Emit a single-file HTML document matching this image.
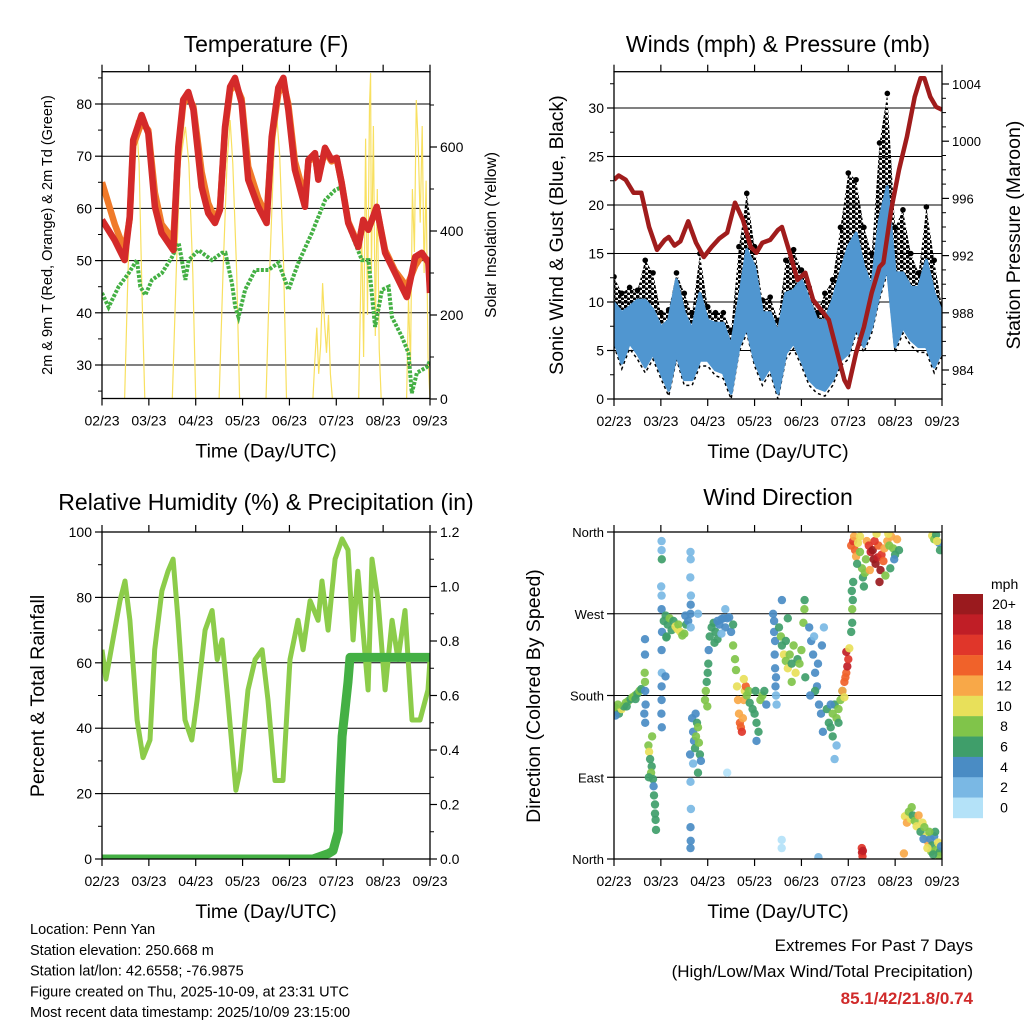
<!DOCTYPE html>
<html><head><meta charset="utf-8"><style>
html,body{margin:0;padding:0;background:#fff;}
svg{display:block;font-family:"Liberation Sans",sans-serif;}
</style></head><body>
<svg id="c" width="1024" height="1024" viewBox="0 0 1024 1024" xmlns="http://www.w3.org/2000/svg"></svg>
<script>
// ---------- DATA ----------
const dayLabels = ['02/23','03/23','04/23','05/23','06/23','07/23','08/23','09/23'];
// Temperature (hours since start, degF)
const tempT = [0,6.5,11.6,14.2,16,20.3,23.7,27.1,30.5,36.5,39.1,41.6,44.2,46.8,51,54.4,57.9,60.4,63,65.6,68.1,71.5,74.9,80,84.3,86.9,90.3,92.9,95.4,98.8,104,105.7,109.1,110.8,114.2,117.6,120.2,122.7,126.1,131.3,133.8,136.4,140.7,145,150.1,156.1,160.4,163.8,167.2,168];
const temp2m = [57.8,53.9,50.1,58.4,73.1,77.9,74.4,60.3,55.3,52,71.8,80.8,82.3,78.9,64.1,59.1,57.2,59.7,75.6,83.3,85,80.2,65.5,60.3,57.2,73.7,83.1,85,78.9,67.4,60.3,69.3,70.6,65.5,71.6,69.3,69.7,64.9,57.2,52.6,57.8,55.9,60.3,51.5,47.6,43,50.7,51.5,49.6,43.8];
const temp9m = [65,57,52,58,72,76.5,75,63,57,54,71,80,81.5,79.5,67,61,58,60,75,82.5,84,81,68,62,58.5,73,82,84,80,69,62,69,70,66,71,69,69.5,65,57.5,53,57.5,56,60,52,48,45,49,51,50,45];
const tdT = [0,3.4,8.5,13.7,17.9,19.6,22.2,25.6,30.7,35.9,39.3,42.7,44.4,49.5,56.3,61.5,63.2,66.6,68.3,69.9,73.3,78.5,85.3,90.4,95.5,100.6,107.5,114.3,119.4,122.9,126.3,133.1,136.5,139.9,143.4,146.8,148.5,153.6,157,158.7,161.3,166.4,168];
const tdV = [43.8,41.1,45,47.6,50.1,45,43.4,46.3,47.6,50.7,53.4,46.3,50.1,52,50.1,51.5,51.5,45.6,41.1,39.2,44.4,48.2,48.2,49.6,44.4,49.6,55.3,61.6,63.5,64.1,56.5,50.1,50.1,37.3,44.4,45,39.2,35.4,32.3,24.6,28.5,29.6,30.8];
// Solar insolation (W/m2)
const solarT = [0,11.6,13,15,17.6,19,20.5,21.9,36,38,40,42.7,44.5,46.5,48,60,62,64,65.6,67,69,70.5,84,86,88,89.5,91,93,94.5,108,109,110,111,112,113,114,115,116,117,118,131.5,133,134,135,136,137,137.6,138,139,140,141,142,143,156,157,158,159,160,161,162,163,164,165,166,167,168];
const solarV = [0,0,250,560,664,560,250,0,0,300,560,648,560,300,0,0,300,560,664,560,300,0,0,320,580,676,580,320,0,0,90,170,60,130,276,180,110,200,60,0,0,400,100,620,200,700,776,300,650,150,500,120,0,0,240,80,500,350,712,600,420,650,300,520,100,0];
// Wind (mph) every 4 hours
const windT = [0,4,8,12,16,20,24,28,32,36,40,44,48,52,56,60,64,68,72,76,80,84,88,92,96,100,104,108,112,116,120,124,128,132,136,140,144,148,152,156,160,164,168];
const windHi = [9.9,8.9,9.5,10.2,10.2,9.2,7.4,8.1,12.3,8.9,7.1,10.9,8.1,7.8,7.8,5.4,10.2,15.4,13.6,8.9,8.9,6.8,10.9,11.2,12.3,10.2,8.1,8.1,10.2,13,15.7,17.1,13.6,11.5,18.5,21.9,13,13,11.5,11.5,14.3,10.9,8.9];
const windLo = [6.1,3.7,5.8,4.7,3.3,4.7,2.7,0.9,4.7,2,2,4,4,3,2.7,0.6,5.4,7.4,4,2,3.3,0.6,4.7,5.8,4,2,1.2,0.9,2,4,4.7,7.4,5.4,7.4,10.9,13.6,5.4,7.4,6.1,5.4,5.4,3.3,5];
const gustV = [12.6,10.9,11.5,11.2,14.3,13,8.9,9.2,13,10.9,8.9,15,9.5,8.9,8.9,7.1,15.7,21.2,15.7,10.2,10.5,8.1,14.3,15.4,13.3,11.5,8.9,10.9,12.3,17.7,23.3,22.6,17.7,15,26.4,31.5,17.7,19.5,15,13,19.8,14.3,9.5];
// Pressure (mb)
const presT = [0,2.4,6,10,14,18,22,26,28,31,34,38,42,46,50,54,58,62,66,70,73,76,80,84,86,90,94,98,102,106,110,114,118,120,124,128,132,136,138,142,146,150,154,157,159,162,165,168];
const presV = [997.3,997.6,997.3,996.4,996.4,994,992.4,993.1,993.3,992.7,993,994.4,992.9,991.9,992.6,993.2,993.6,995.7,994.5,992.6,992.2,992.9,993.1,993.8,994,992.2,990.3,990.8,988.9,988.2,987.5,985.4,983.3,982.8,985.2,987,989.4,991.2,991.5,995.2,998,1000.3,1003.1,1004.4,1004.4,1003.1,1002.4,1002.2];
// Relative humidity (%)
const rhT = [0,2,5.6,9.2,11.8,14.3,18,21,24.6,27,30.7,33.8,36.4,39,42.5,46,48.7,52.8,56.4,59,61.5,64.5,68.6,70.7,74.8,78.4,82,85,88.6,92.7,96.3,100.4,103,106.6,110.7,112.7,115.8,119.4,123,126,128.6,131,133.2,136.3,138.3,141.4,145,148.6,151.6,155.2,158.8,162.9,167,168];
const rhV = [64,55,67,79,85,73,42.5,31,36.4,64,82,88,91.7,73,42.5,36.4,48.6,70,76,61,67,48.6,21,27,51.7,61,64,48.6,24,24,61,73,64,79,73,85,70,91.7,97.9,94.5,67,88,73,51.7,91.7,79,51.7,73,61,76,42.5,42.5,51.7,61];
// Precipitation (in, cumulative)
const prT = [0,108,112,116,118.3,121,122,123,124.5,126,127,140,168];
const prV = [0,0,0.01,0.02,0.03,0.1,0.3,0.45,0.55,0.65,0.74,0.74,0.74];
// Wind direction scatter: hours, degrees, speed (mph)
const dirT = [0.5,1.5,2.5,3.9,5,6,7.3,8.5,9.5,10.8,12,13,14,2,6.5,11,0.8,
15.9,15.9,15.7,15.9,16,16.2,15.5,16,
17.6,18,18.5,19.3,19,20,20.3,20.5,21,21,21.3,21.5,17.8,19.5,
24.4,24.4,24.5,24.2,24.4,24.4,24.6,24.4,24.5,24.4,24.4,24.3,24.5,26.4,26.8,
25.5,26.5,27.5,28.5,29.5,30.5,31.5,32.5,33,34,35,36,37,38,36.5,27,
39.2,39.3,39.1,39.4,39.3,39.2,39.3,39,39.2,39.4,39.2,39.3,39.2,
40,40.5,41,41.5,42,42.5,43,43.5,44,44.5,40.5,43,41.8,
46.6,47,47.5,48,48.3,48.5,47.8,
49,50,51,52,53,54,55,56,57,58,59,51.5,53,55,57,60,61,
61,62,62.5,63,63.5,64,64.5,65,65.5,66,66.5,67,67.5,68,69,69.5,66.5,
71,72,73,74,75,76,77,78,72.5,73,
81.5,82,82,82.5,82.3,82.5,83,82.7,83,83.3,
84.5,85.5,86,87,88,89,90,91,92,93,94,95,96,97,97.5,97.6,98,88,91,86,89,
100,101,102,103,104,105,106,107,104.5,102.5,106.5,107.5,103,100.5,
109,110,111,112,113,114,115,116,112,114,113,117,111,115,
117,118,118.5,119,119.5,120,119,120.5,118,
121.5,122,122,122.3,121.8,122.5,
121.5,122.5,123,123.5,124,125,126,127,127.5,128,128.5,126,124.5,129,129.5,
130.5,131.5,132.5,133,134,135,135.5,136.5,137,138,138.5,133.5,131,136,139,134.5,
140,141,142,143,144,145,146,143.5,141.5,140.5,
163,164,165,166.5,167,165.5,
126.9,127,127.3,127.5,
149,150,151,152,153,152.5,154,155,156,157,158,159,160,161,162,163,164,165,166,167,167.5,162.5,164.5,160.5,158.5,148.5,166.5,163.5,161.5,
85.9,85.9,58,104.7,43];
const dirV = [167,163,160,165,168,172,174,176,178,180,182,185,187,170,168,176,158,
242,225,205,195,185,170,160,150,
125,118,110,102,95,88,80,70,60,50,43,32,90,135,
350,340,330,300,290,275,250,230,205,190,175,160,145,201,244,
262,268,258,265,252,262,256,253,258,250,246,248,258,262,268,245,
338,330,310,290,280,270,255,115,85,55,35,20,12,
155,140,130,122,135,150,145,128,115,108,105,95,160,
175,185,195,205,215,230,168,
245,255,260,250,262,258,264,265,255,265,266,238,242,248,275,250,258,
235,220,208,190,175,160,150,145,140,155,175,185,190,180,185,172,198,
165,160,150,140,175,180,185,170,185,130,
270,262,250,240,225,210,200,190,180,170,
255,245,235,225,218,210,225,215,235,205,220,215,230,260,275,285,200,240,195,285,265,
255,240,225,205,190,170,160,140,215,245,235,255,185,180,
165,150,145,160,170,155,165,175,135,125,110,185,170,150,
185,195,200,205,212,220,228,232,178,
250,260,275,285,295,305,
345,350,355,340,333,348,338,320,310,300,315,355,325,330,350,
345,338,340,330,325,332,345,318,335,328,342,350,318,305,312,358,
350,345,355,342,335,352,340,330,320,358,
356,352,357,348,340,350,
12,7,3,9,
47,40,52,44,48,57,42,36,48,30,40,35,25,18,22,15,25,10,18,8,14,8,30,12,22,6,3,5,30,
21,12,95,2,270];
const dirS = [6,8,6,10,6,8,8,6,8,8,6,8,6,8,6,6,4,
4,4,8,8,4,4,4,4,
8,10,6,6,8,6,4,6,6,6,6,6,6,8,
2,2,6,2,2,4,4,4,2,4,4,4,4,4,6,
6,6,6,8,6,6,10,10,8,10,8,8,6,4,4,6,
2,2,2,2,4,4,2,4,2,2,4,4,4,
4,4,4,6,8,6,8,8,6,4,2,6,4,
8,8,6,6,6,4,8,
6,6,6,6,4,4,4,4,4,4,4,6,6,2,2,4,6,
8,8,8,10,12,12,14,14,16,12,12,10,14,8,8,6,10,
6,6,6,6,8,8,6,4,6,4,
4,4,4,4,4,4,4,4,2,2,
6,8,6,10,8,10,8,6,8,10,6,8,8,8,8,6,6,6,8,4,6,
4,4,4,4,4,4,4,4,4,2,4,2,6,4,
6,6,6,8,6,8,8,8,6,2,2,6,4,6,
12,14,14,14,18,16,18,10,10,
6,6,8,6,6,6,
14,16,12,14,12,10,8,8,6,6,8,10,6,8,12,
16,18,20,20,20,18,14,20,16,14,12,16,12,20,8,10,
12,8,12,8,6,12,6,4,6,10,
10,8,6,4,6,10,
16,18,16,18,
10,12,8,10,6,8,8,10,12,6,10,8,10,12,4,6,4,8,10,6,4,8,6,10,4,12,8,6,8,
0,0,0,2,2];
const cbLabels = ['20+','18','16','14','12','10','8','6','4','2','0'];

// ---------- RENDER ----------
const NS='http://www.w3.org/2000/svg';
const svg=document.getElementById('c');
function mk(tag,attrs,parent){const e=document.createElementNS(NS,tag);for(const k in attrs)e.setAttribute(k,attrs[k]);(parent||svg).appendChild(e);return e;}
function txt(s,attrs,parent){const e=mk('text',attrs,parent);e.textContent=s;return e;}
const P1={x0:102,x1:430,y0:71.7,y1:398.5},P2={x0:614,x1:942,y0:71.7,y1:399},P3={x0:102,x1:430,y0:532,y1:859},P4={x0:614,x1:942,y0:532,y1:859};
const xs=(P)=>(t)=>P.x0+t*(P.x1-P.x0)/168;
const yT=v=>365-(v-30)*5.22, yS=s=>399-s*0.42, yW=w=>399-w*9.7, yP=p=>370-(p-984)*14.3;
const yH=h=>859-h*3.27, yR=r=>859-r*272.5, yD=d=>859-d*327/360;
function pts(T,V,fx,fy){return T.map((t,i)=>fx(t).toFixed(1)+','+fy(V[i]).toFixed(1)).join(' ');}
const defs=mk('defs',{});
function clip(id,P){const d=mk('clipPath',{id:id},defs);mk('rect',{x:P.x0,y:P.y0,width:P.x1-P.x0,height:P.y1-P.y0},d);}
clip('c1',P1);clip('c2',P2);clip('c3',P3);clip('c4',P4);
{const pat=mk('pattern',{id:'dots',width:6,height:5,patternUnits:'userSpaceOnUse'},defs);
 mk('circle',{cx:1.5,cy:1.5,r:2.1,fill:'#000'},pat);mk('circle',{cx:4.5,cy:4,r:1.6,fill:'#000'},pat);}

function frame(P,name){
  const g=mk('g',{});
  
  
  mk('rect',{x:P.x0,y:P.y0,width:P.x1-P.x0,height:P.y1-P.y0,fill:'none',stroke:'#000','stroke-width':1.3},g);
  const fx=xs(P);
  for(let d=0;d<8;d++){
    const x=fx(d*24);
    mk('line',{x1:x,x2:x,y1:P.y1,y2:P.y1+7,stroke:'#000','stroke-width':1.2},g);
    mk('line',{x1:x,x2:x,y1:P.y0,y2:P.y0-7,stroke:'#000','stroke-width':1.2},g);
    const t=txt(dayLabels[d],{x:x,y:P.y1+27,'font-size':14,'text-anchor':'middle'},g);
    
    
  }
  const xt=txt('Time (Day/UTC)',{x:(P.x0+P.x1)/2,y:P.y1+59,'font-size':19.5,'text-anchor':'middle'},g);
  
  
  return g;
}
function yaxis(P,side,vals,fy,labels,minor,grid,fs){
  const g=mk('g',{});
  
  
  const x=side==='left'?P.x0:P.x1, s=side==='left'?-1:1;
  vals.forEach((v,i)=>{const y=fy(v);
    if(grid)mk('line',{x1:P.x0,x2:P.x1,y1:y,y2:y,stroke:'#000','stroke-width':1},g);
    mk('line',{x1:x,x2:x+s*7,y1:y,y2:y,stroke:'#000','stroke-width':1.2},g);
    const t=txt(labels[i],{x:x+s*10,y:y+5,'font-size':fs||14,'text-anchor':side==='left'?'end':'start'},g);
    
    
  });
  minor.forEach(v=>{const y=fy(v);if(y>=P.y0-0.5&&y<=P.y1+0.5)mk('line',{x1:x,x2:x+s*4,y1:y,y2:y,stroke:'#000','stroke-width':1},g);});
  return g;
}
function title(s,x,y,fs,name){const t=txt(s,{x:x,y:y,'font-size':fs,'text-anchor':'middle'});}
function vtitle(s,x,y,fs,name){const t=txt(s,{x:x,y:y,'font-size':fs,'text-anchor':'middle',transform:'rotate(-90 '+x+' '+y+')'});}

// Panel 1: temperature
title('Temperature (F)',266,52,23,'temperature-title');
yaxis(P1,'left',[30,40,50,60,70,80],yT,['30','40','50','60','70','80'],[25,35,45,55,65,75,85],true);
yaxis(P1,'right',[0,200,400,600],yS,['0','200','400','600'],[100,300,500,700],false);
{
  const f=xs(P1);
  const g=mk('g',{'clip-path':'url(#c1)'});
  
  
  const so=mk('polyline',{points:pts(solarT,solarV,f,yS),fill:'none',stroke:'#f8e060','stroke-width':1.2},g);
  
  
  const td=mk('polyline',{points:pts(tdT,tdV,f,yT),fill:'none',stroke:'#44b044','stroke-width':4,'stroke-dasharray':'3 1.5'},g);
  
  
  const o=mk('polyline',{points:pts(tempT,temp9m,f,yT),fill:'none',stroke:'#f07a2a','stroke-width':6.5,'stroke-linejoin':'round'},g);
  
  
  const r=mk('polyline',{points:pts(tempT,temp2m,f,yT),fill:'none',stroke:'#d42a2a','stroke-width':6.5,'stroke-linejoin':'round'},g);
  
  
}
frame(P1,'temperature');
vtitle('2m & 9m T (Red, Orange) & 2m Td (Green)',52,235,14.5,'temperature-y-axis-title');
vtitle('Solar Insolation (Yellow)',496,235,15.5,'solar-y-axis-title');

// Panel 2: wind & pressure
title('Winds (mph) & Pressure (mb)',778,52,23,'winds-title');
yaxis(P2,'left',[0,5,10,15,20,25,30],yW,['0','5','10','15','20','25','30'],[2.5,7.5,12.5,17.5,22.5,27.5,32.5],true);
const pv=[984,988,992,996,1000,1004];
yaxis(P2,'right',pv,yP,pv.map(String),[983,985,986,987,989,990,991,993,994,995,997,998,999,1001,1002,1003,1005,1006],false,13);
{
  const f=xs(P2);
  const g=mk('g',{'clip-path':'url(#c2)'});
  
  
  const rev=(T,V,fy)=>T.map((t,i)=>f(t).toFixed(1)+','+fy(V[i]).toFixed(1)).reverse().join(' ');
  const gb=mk('polygon',{points:pts(windT,gustV,f,yW)+' '+rev(windT,windHi,yW),fill:'url(#dots)',stroke:'none'},g);
  
  
  windT.forEach((t,i)=>{const c=mk('circle',{cx:f(t),cy:yW(gustV[i]),r:2.8,fill:'#000'},g);
    
    });
  const lo=mk('polyline',{points:pts(windT,windLo.map(v=>Math.max(0,v-0.6)),f,yW),fill:'none',stroke:'#000','stroke-width':1.5,'stroke-dasharray':'3 3'},g);
  
  
  const wb=mk('polygon',{points:pts(windT,windHi,f,yW)+' '+rev(windT,windLo,yW),fill:'#5096d0',stroke:'#5096d0','stroke-width':3,'stroke-linejoin':'round'},g);
  
  
  const p=mk('polyline',{points:pts(presT,presV,f,yP),fill:'none',stroke:'#a01c1c','stroke-width':4.5,'stroke-linejoin':'round'},g);
  
  
}
frame(P2,'winds');
vtitle('Sonic Wind & Gust (Blue, Black)',563,235,19.5,'wind-y-axis-title');
vtitle('Station Pressure (Maroon)',1020,235,19.5,'pressure-y-axis-title');

// Panel 3: RH & precip
title('Relative Humidity (%) & Precipitation (in)',266,510,23,'humidity-title');
yaxis(P3,'left',[0,20,40,60,80,100],yH,['0','20','40','60','80','100'],[10,30,50,70,90],true);
const rv=[0,0.2,0.4,0.6,0.8,1.0,1.2];
yaxis(P3,'right',rv,yR,rv.map(v=>v.toFixed(1)),[0.1,0.3,0.5,0.7,0.9,1.1],false);
{
  const f=xs(P3);
  const g=mk('g',{'clip-path':'url(#c3)'});
  
  
  const h=mk('polyline',{points:pts(rhT,rhV,f,yH),fill:'none',stroke:'#8ccc4a','stroke-width':5,'stroke-linejoin':'round'},g);
  
  
  const p=mk('polyline',{points:pts(prT,prV,f,yR),fill:'none',stroke:'#44b044','stroke-width':9,'stroke-linecap':'round','stroke-linejoin':'round'},g);
  
  
}
frame(P3,'humidity');
vtitle('Percent & Total Rainfall',44,696,19.5,'humidity-y-axis-title');

// Panel 4: wind direction
title('Wind Direction',778,505,23,'wind-direction-title');
yaxis(P4,'left',[0,90,180,270,360],yD,['North','East','South','West','North'],[],true,13);
const cbColors=['#9a1a1e','#c01e26','#e0362a','#f0622a','#f8a848','#e8e05a','#80c44a','#3f9e6a','#4a8cc4','#7ab8e4','#b4e2f8'];
function spdColor(s){let i=Math.min(10,Math.floor(s/2));return cbColors[10-i];}
{
  const f=xs(P4);
  const g=mk('g',{'clip-path':'url(#c4)'});
  
  
  dirT.forEach((t,i)=>{
    const c=mk('circle',{cx:f(t).toFixed(1),cy:yD(dirV[i]).toFixed(1),r:4.2,fill:spdColor(dirS[i]),'fill-opacity':0.92},g);
    
    
  });
}
frame(P4,'wind-direction');
vtitle('Direction (Colored By Speed)',540,696,19.5,'direction-y-axis-title');
{
  const g=mk('g',{});
  
  
  const u=txt('mph',{x:991,y:589,'font-size':14},g);
  
  
  cbColors.forEach((c,i)=>{
    const r=mk('rect',{x:953,y:594+i*20.36,width:30,height:20.6,fill:c},g);
    
    
    const t=txt(cbLabels[i],{x:1004,y:594+i*20.36+15,'font-size':14,'text-anchor':'middle'},g);
    
    
  });
}

// Footer text
{
  const lines=['Location: Penn Yan','Station elevation: 250.668 m','Station lat/lon: 42.6558; -76.9875','Figure created on Thu, 2025-10-09, at 23:31 UTC','Most recent data timestamp: 2025/10/09 23:15:00'];
  lines.forEach((s,i)=>{const t=txt(s,{x:30,y:934+i*20.8,'font-size':14.5});
    
    });
  const a=txt('Extremes For Past 7 Days',{x:973,y:951,'font-size':17,'text-anchor':'end'});
  
  
  const b=txt('(High/Low/Max Wind/Total Precipitation)',{x:973,y:977,'font-size':17,'text-anchor':'end'});
  
  
  const c=txt('85.1/42/21.8/0.74',{x:973,y:1004,'font-size':17,'font-weight':'bold','fill':'#d02a2a','text-anchor':'end'});
  
  
}
</script>
</body></html>
